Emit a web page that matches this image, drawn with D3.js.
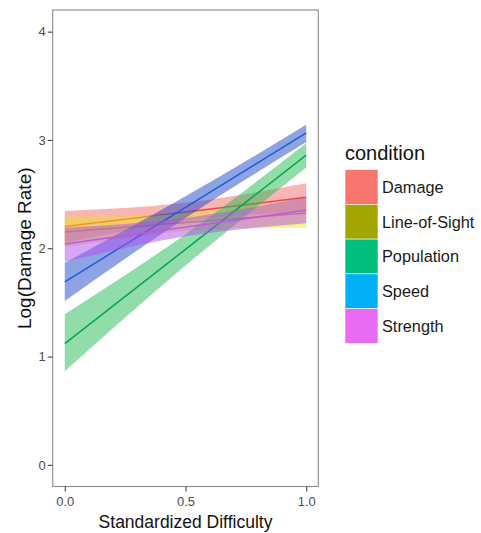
<!DOCTYPE html>
<html>
<head>
<meta charset="utf-8">
<script src="https://cdn.jsdelivr.net/npm/d3@7/dist/d3.min.js"></script>
<style>
  html, body { margin: 0; padding: 0; background: #ffffff; }
  svg { display: block; font-family: "Liberation Sans", Arial, Helvetica, sans-serif; }
</style>
</head>
<body>
<svg id="chart" width="481" height="533"></svg>
<script>
// Conditions, in legend order
const conditions = ["Damage", "Line-of-Sight", "Population", "Speed", "Strength"];

// Positions along the standardized difficulty axis where the fits are sampled
const xAt = [0, 0.5, 1];

// Fitted log damage rate per condition
const fitDamage     = [2.20, 2.335, 2.47];
const fitLineOfSight = [2.15, 2.2375, 2.325];
const fitPopulation = [1.12, 1.99, 2.86];
const fitSpeed      = [1.69, 2.3775, 3.065];
const fitStrength   = [2.04, 2.195, 2.35];

// Confidence band bounds per condition
const loDamage      = [2.05, 2.25, 2.34];
const hiDamage      = [2.345, 2.42, 2.60];
const loLineOfSight = [2.01, 2.16, 2.19];
const hiLineOfSight = [2.29, 2.32, 2.46];
const loPopulation  = [0.865, 1.84, 2.745];
const hiPopulation  = [1.39, 2.13, 2.97];
const loSpeed       = [1.514, 2.28, 2.98];
const hiSpeed       = [1.865, 2.48, 3.14];
const loStrength    = [1.875, 2.11, 2.23];
const hiStrength    = [2.19, 2.28, 2.47];

// Axis ticks
const xTicks = [0, 0.5, 1];
const xTickLabels = ["0.0", "0.5", "1.0"];
const yTicks = [0, 1, 2, 3, 4];

const fits = [fitDamage, fitLineOfSight, fitPopulation, fitSpeed, fitStrength];
const los  = [loDamage, loLineOfSight, loPopulation, loSpeed, loStrength];
const his  = [hiDamage, hiLineOfSight, hiPopulation, hiSpeed, hiStrength];

// Colours: ribbons/lines in the panel, default hue swatches in the legend
const ribbonColors = ["#f46a6a", "#ece41a", "#22bb55", "#2046c8", "#b24df0"];
const lineColors   = ["#ee4a44", "#c9a414", "#00a64d", "#1a5fd2", "#c452e6"];
const keyColors    = ["#F8766D", "#A3A500", "#00BF7D", "#00B0F6", "#E76BF3"];

const svg = d3.select("#chart");
svg.append("rect").attr("width", 481).attr("height", 533).attr("fill", "#ffffff");

const panel = { left: 52.7, right: 318.3, top: 10, bottom: 486.5 };

const x = d3.scaleLinear().domain([-0.05, 1.05]).range([panel.left, panel.right]);
const y = d3.scaleLinear().domain([-0.2, 4.2]).range([panel.bottom, panel.top]);

const plot = svg.append("g");

// One ribbon then one line per condition, so later ribbons tint earlier lines
conditions.forEach((c, i) => {
  const rows = xAt.map((v, j) => ({ x: v, lo: los[i][j], hi: his[i][j], fit: fits[i][j] }));
  const area = d3.area()
    .x(d => x(d.x))
    .y0(d => y(d.lo))
    .y1(d => y(d.hi))
    .curve(d3.curveNatural);
  plot.append("path")
    .datum(rows)
    .attr("d", area)
    .attr("fill", ribbonColors[i])
    .attr("fill-opacity", 0.5);
  const line = d3.line().x(d => x(d.x)).y(d => y(d.fit));
  plot.append("path")
    .datum(rows)
    .attr("d", line)
    .attr("fill", "none")
    .attr("stroke", lineColors[i])
    .attr("stroke-width", 1.5);
});

// Panel border
svg.append("rect")
  .attr("x", panel.left).attr("y", panel.top)
  .attr("width", panel.right - panel.left)
  .attr("height", panel.bottom - panel.top)
  .attr("fill", "none")
  .attr("stroke", "#8a8a8a")
  .attr("stroke-width", 1.1);

// Axes
const xAxis = d3.axisBottom(x)
  .tickValues(xTicks)
  .tickFormat((d, i) => xTickLabels[i])
  .tickSize(5).tickPadding(4);
const gx = svg.append("g")
  .attr("transform", `translate(0,${panel.bottom})`)
  .call(xAxis);
gx.select(".domain").remove();
gx.selectAll(".tick line").attr("stroke", "#444").attr("stroke-width", 1.1);
gx.selectAll(".tick text")
  .attr("fill", "#4d4d4d")
  .style("font-size", "13px")
  .attr("dy", "0.8em");

const yAxis = d3.axisLeft(y)
  .tickValues(yTicks)
  .tickFormat(d3.format("d"))
  .tickSize(5).tickPadding(2);
const gy = svg.append("g")
  .attr("transform", `translate(${panel.left},0)`)
  .call(yAxis);
gy.select(".domain").remove();
gy.selectAll(".tick line").attr("stroke", "#444").attr("stroke-width", 1.1);
gy.selectAll(".tick text")
  .attr("fill", "#4d4d4d")
  .style("font-size", "13px");

// Axis titles
svg.append("text")
  .attr("x", (panel.left + panel.right) / 2)
  .attr("y", 528)
  .attr("text-anchor", "middle")
  .style("font-size", "17.5px")
  .attr("fill", "#111")
  .text("Standardized Difficulty");

svg.append("text")
  .attr("transform", `translate(24.5,${(panel.top + panel.bottom) / 2}) rotate(-90)`)
  .attr("text-anchor", "middle")
  .attr("dominant-baseline", "central")
  .style("font-size", "19px")
  .attr("fill", "#111")
  .text("Log(Damage Rate)");

// Legend
const legend = svg.append("g");
legend.append("text")
  .attr("x", 345).attr("y", 160)
  .style("font-size", "20px")
  .attr("fill", "#111")
  .text("condition");

const keyH = 34.75, keyW = 33, keyTop = 169.6;
conditions.forEach((c, i) => {
  legend.append("rect")
    .attr("x", 345).attr("y", keyTop + i * keyH)
    .attr("width", keyW).attr("height", keyH)
    .attr("fill", keyColors[i])
    .attr("stroke", "#ffffff").attr("stroke-width", 0.6);
  legend.append("text")
    .attr("x", 382).attr("y", keyTop + i * keyH + keyH / 2)
    .attr("dominant-baseline", "central")
    .style("font-size", "16.3px")
    .attr("fill", "#1a1a1a")
    .text(c);
});
</script>
</body>
</html>
